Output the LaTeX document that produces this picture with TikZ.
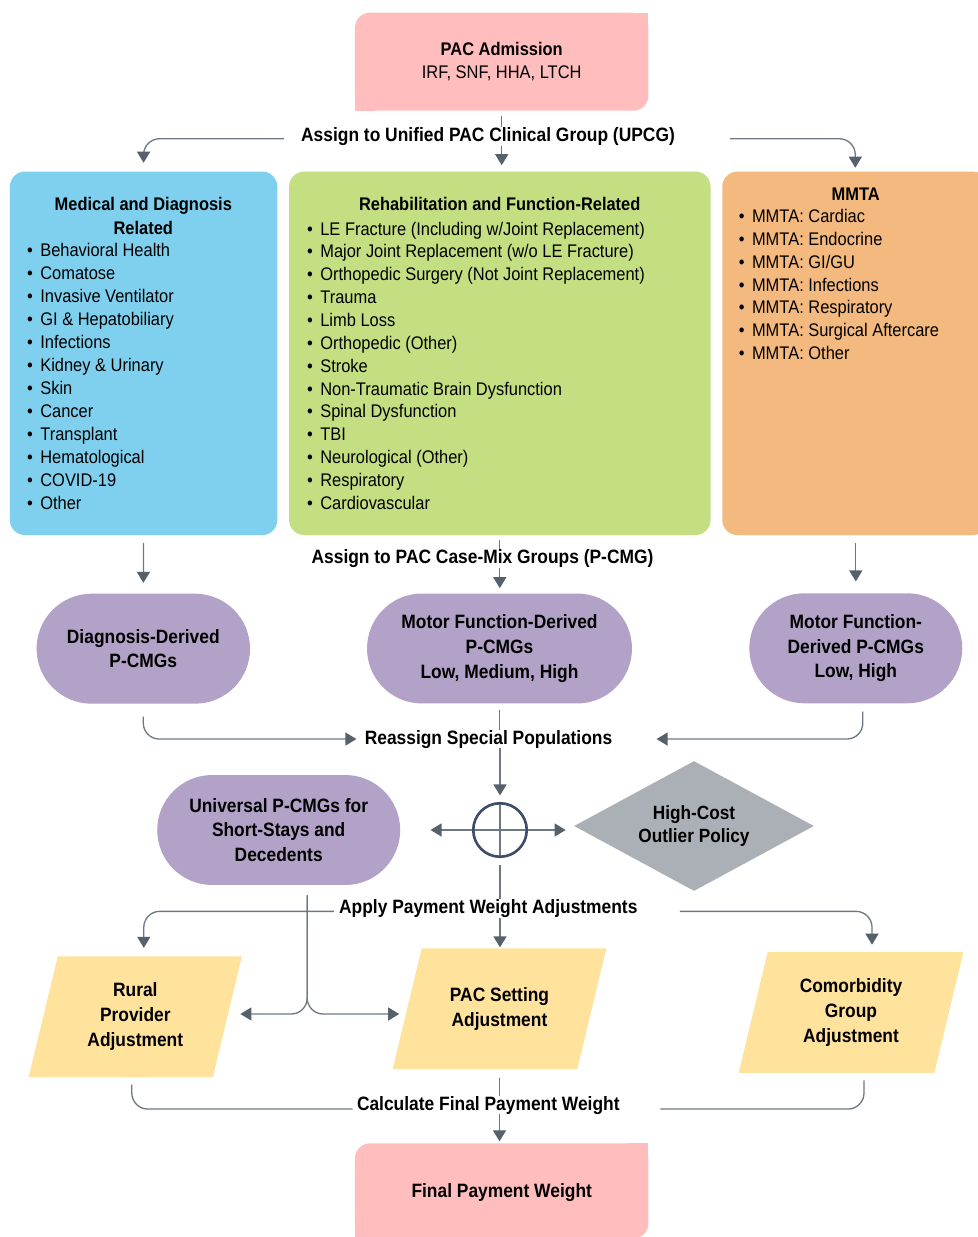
\documentclass[tikz,border=0pt]{standalone}
\usepackage{fontspec}
\setmainfont[FakeStretch=0.9]{Liberation Sans}
\usetikzlibrary{shapes.geometric, arrows.meta, backgrounds}

\definecolor{admpink}{HTML}{FFBDBE}
\definecolor{medblue}{HTML}{7FD0EE}
\definecolor{rehabgreen}{HTML}{C4DF82}
\definecolor{mmtaorange}{HTML}{F4B97E}
\definecolor{pcmgpurple}{HTML}{B3A2C7}
\definecolor{outliergray}{HTML}{ABB0B6}
\definecolor{adjyellow}{HTML}{FFE29C}
\definecolor{linegray}{HTML}{6E7882}
\definecolor{tipgray}{HTML}{56616C}
\definecolor{sumblue}{HTML}{3E4E6A}

\begin{document}
\begin{tikzpicture}[
    x=0.02cm, y=-0.02cm,
    every node/.style = {inner sep=0},
    pinkbox/.style = {rectangle, fill=admpink, outer sep=0, rounded corners=0.3cm, minimum width=5.87cm, align=center, font=\fontsize{10.4}{13.1}\selectfont},
    listbox/.style = {rectangle, rounded corners=0.3cm, minimum height=7.27cm},
    listhead/.style = {anchor=base, align=center, font=\bfseries\fontsize{10.4}{13.1}\selectfont},
    listitem/.style = {anchor=base west, font=\fontsize{10.4}{13.1}\selectfont},
    lbl/.style = {anchor=base, font=\bfseries\fontsize{11}{13.1}\selectfont},
    pill/.style = {rectangle, fill=pcmgpurple, rounded corners=1.1cm, minimum height=2.2cm, align=center, font=\bfseries\fontsize{11}{14}\selectfont},
    slant/.style = {rectangle, minimum height=2.4cm, align=center, font=\bfseries\fontsize{11}{14.2}\selectfont},
    conn/.style = {draw=linegray, line width=0.75pt},
    arrow/.style = {conn, -{Triangle[width=0.26cm, length=0.22cm, color=tipgray]}},
    elbow/.style = {rounded corners=0.32cm}
]
    \useasboundingbox (0,0) rectangle (977,1237);

    % Admission
    \node[pinkbox, minimum height=1.96cm] (adm) at (501.7,61.7) {\textbf{PAC Admission}\\IRF, SNF, HHA, LTCH};
    \fill[admpink] (adm.north east) rectangle ++(-0.4cm,-0.4cm);
    \fill[admpink] (adm.south west) rectangle ++(0.4cm,0.4cm);
    \node[lbl] (upcg) at (488,141.7) {Assign to Unified PAC Clinical Group (UPCG)};

    % Clinical groups
    \node[listbox, fill=medblue, minimum width=5.35cm] (med) at (143.6,353.3) {};
    \node[listbox, fill=rehabgreen, minimum width=8.43cm] (rehab) at (499.8,353.3) {};
    \node[listbox, fill=mmtaorange, minimum width=5.32cm] (mmta) at (855.3,353.3) {};

    \node[listhead] (medhead) at (143.3,234) {Medical and Diagnosis\\Related};
    \node[listhead] (rehabhead) at (499.7,210.7) {Rehabilitation and Function-Related};
    \node[listhead] (mmtahead) at (855.7,200) {MMTA};

    \foreach \t [count=\i from 0] in {Behavioral Health, Comatose, Invasive Ventilator, GI \& Hepatobiliary, Infections, Kidney \& Urinary, Skin, Cancer, Transplant, Hematological, COVID-19, Other}
        \node[listitem] (med\i) at (40,256.7+22.95*\i) {\llap{\textbullet\hspace{0.15cm}}\t};
    \foreach \t [count=\i from 0] in {LE Fracture (Including w/Joint Replacement), Major Joint Replacement (w/o LE Fracture), Orthopedic Surgery (Not Joint Replacement), Trauma, Limb Loss, Orthopedic (Other), Stroke, Non-Traumatic Brain Dysfunction, Spinal Dysfunction, TBI, Neurological (Other), Respiratory, Cardiovascular}
        \node[listitem] (rehab\i) at (320,235+22.86*\i) {\llap{\textbullet\hspace{0.15cm}}\t};
    \foreach \t [count=\i from 0] in {MMTA: Cardiac, MMTA: Endocrine, MMTA: GI/GU, MMTA: Infections, MMTA: Respiratory, MMTA: Surgical Aftercare, MMTA: Other}
        \node[listitem] (mmta\i) at (751.7,222.7+22.8*\i) {\llap{\textbullet\hspace{0.15cm}}\t};

    % Case-mix groups
    \node[lbl] (pcmg) at (482.5,563.3) {Assign to PAC Case-Mix Groups (P-CMG)};
    \node[pill, minimum width=4.27cm] (diag) at (143.3,648.7) {Diagnosis-Derived\\P-CMGs};
    \node[pill, minimum width=5.3cm] (motor) at (499.5,648.5) {Motor Function-Derived\\P-CMGs\\Low, Medium, High};
    \node[pill, minimum width=4.26cm] (mfd) at (855.8,648.3) {Motor Function-\\Derived P-CMGs\\Low, High};

    % Special populations
    \node[lbl] (reassign) at (488.5,744) {Reassign Special Populations};
    \node[pill, minimum width=4.86cm] (univ) at (278.7,830) {Universal P-CMGs for\\Short-Stays and\\Decedents};
    \node[circle, draw=sumblue, line width=1.5pt, minimum size=1.07cm] (sum) at (500,830) {};
    \node[diamond, aspect=1.85, fill=outliergray, minimum width=4.8cm, minimum height=2.6cm, align=center, font=\bfseries\fontsize{10.9}{13.6}\selectfont] (hco) at (694,826) {High-Cost\\Outlier Policy};

    % Adjustments
    \node[lbl] (apply) at (488.3,913.3) {Apply Payment Weight Adjustments};
    \node[slant, minimum width=3.67cm] (rural) at (135.3,1016.7) {Rural\\Provider\\Adjustment};
    \node[slant, minimum width=3.68cm] (setting) at (499.5,1008.7) {PAC Setting\\Adjustment};
    \node[slant, minimum width=3.9cm] (comorb) at (851,1012.5) {Comorbidity\\Group\\Adjustment};
    \coordinate (split) at (307,1014);

    \node[lbl] (calc) at (488.3,1110) {Calculate Final Payment Weight};
    \node[pinkbox, minimum height=1.9cm, text depth=0pt, font=\bfseries\fontsize{11}{13.1}\selectfont] (final) at (501.7,1190.8) {Final Payment Weight};
    \fill[admpink] (final.north east) rectangle ++(-0.4cm,-0.4cm);
    \fill[admpink] (final.south west) rectangle ++(0.4cm,0.4cm);

    \begin{scope}[on background layer]
        \foreach \n in {rural, setting, comorb}
            \fill[adjyellow] ([xshift=-0.29cm]\n.south west) -- ([xshift=0.29cm]\n.north west)
                -- ([xshift=0.29cm]\n.north east) -- ([xshift=-0.29cm]\n.south east) -- cycle;
        \draw[conn] (sum.north) -- (sum.south) (sum.west) -- (sum.east);
    \end{scope}

    % Arrows
    \draw[conn, shorten <=0.1cm] (adm.south) -- (adm.south |- upcg.north);
    \draw[arrow, shorten >=0.12cm] (adm.south |- upcg.south) -- (adm.south |- rehab.north);
    \draw[arrow, elbow, shorten >=0.17cm] ([xshift=-0.34cm, yshift=-0.04cm]upcg.west) -| (med.north);
    \draw[arrow, elbow, shorten >=0.07cm] ([xshift=1.1cm, yshift=-0.04cm]upcg.east) -| (mmta.north);

    \draw[arrow, shorten <=0.15cm, shorten >=0.21cm] (med.south) -- (diag.north);
    \draw[conn, shorten <=0.1cm] (rehab.south) -- (rehab.south |- pcmg.north);
    \draw[arrow, shorten >=0.1cm] (rehab.south |- pcmg.south) -- (rehab.south |- motor.north);
    \draw[arrow, shorten <=0.15cm, shorten >=0.23cm] (mfd.north |- mmta.south) -- (mfd.north);

    \draw[conn, shorten <=0.12cm] (motor.south) -- (motor.south |- reassign.north);
    \draw[arrow, shorten >=0.13cm] (sum.north |- reassign.south) -- (sum.north);
    \draw[arrow, elbow, shorten <=0.25cm, shorten >=0.16cm] (diag.south) |- (reassign.west);
    \draw[arrow, elbow, shorten <=0.16cm, shorten >=0.88cm] ([xshift=0.14cm]mfd.south) |- (reassign.east);

    \draw[arrow, shorten >=0.6cm] (sum.west) -- (univ.east);
    \draw[arrow, shorten >=0.16cm] (sum.east) -- (sum.east -| hco.west);

    \draw[conn, shorten <=0.14cm] (sum.south) -- (sum.south |- apply.north);
    \draw[arrow, shorten >=0.02cm] (sum.south |- apply.south) -- (sum.south |- setting.north);
    \draw[arrow, elbow, shorten >=0.17cm] ([xshift=-0.1cm, yshift=-0.06cm]apply.west) -| ([xshift=0.17cm]rural.north);
    \draw[arrow, elbow, shorten >=0.15cm] ([xshift=0.84cm, yshift=-0.06cm]apply.east) -| ([xshift=0.42cm]comorb.north);
    \draw[arrow, elbow, shorten <=0.2cm, shorten >=0.26cm] ([xshift=0.57cm]univ.south) |- (split -| rural.east);
    \draw[arrow, elbow, shorten <=0.2cm, shorten >=0.16cm] ([xshift=0.57cm]univ.south) |- (split -| setting.west);

    \draw[conn, shorten <=0.17cm] (setting.south) -- (setting.south |- calc.north);
    \draw[arrow, shorten >=0.04cm] (setting.south |- calc.south) -- (setting.south |- final.north);
    \draw[conn, elbow, shorten <=0.15cm] ([xshift=-0.07cm]rural.south) |- ([xshift=-0.08cm, yshift=-0.08cm]calc.west);
    \draw[conn, elbow, shorten <=0.15cm] ([xshift=0.26cm]comorb.south) |- ([xshift=0.81cm, yshift=-0.08cm]calc.east);

\end{tikzpicture}
\end{document}
